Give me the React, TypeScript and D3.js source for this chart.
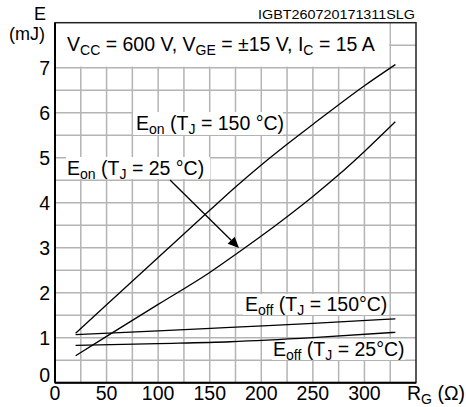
import React from 'react';
import * as d3 from 'd3';

// gate resistance (ohm) / switching energy (mJ)
const eon150: [number, number][] = [
  [20, 1.1], [50, 1.73], [100, 2.78], [150, 3.83], [175, 4.35], [200, 4.84], [225, 5.3],
  [250, 5.74], [300, 6.6], [330, 7.07],
];
const eon25: [number, number][] = [
  [20, 0.6], [50, 1.03], [100, 1.74], [150, 2.45], [175, 2.85], [200, 3.26], [225, 3.69],
  [250, 4.14], [275, 4.62], [300, 5.14], [330, 5.8],
];
const eoff150: [number, number][] = [
  [20, 1.07], [100, 1.15], [170, 1.23], [250, 1.32], [330, 1.42],
];
const eoff25: [number, number][] = [
  [20, 0.83], [100, 0.87], [170, 0.91], [250, 1.0], [330, 1.12],
];

const xTicks = [0, 50, 100, 150, 200, 250, 300];
const yTicks = [0, 1, 2, 3, 4, 5, 6, 7];
const xGrid = d3.range(25, 350, 25);
const yGrid = d3.range(0.5, 8, 0.5);

const W = 466;
const H = 407;
const FONT = 'Liberation Sans, Arial, sans-serif';
const FS = 19.5;

const x = d3.scaleLinear().domain([0, 350]).range([55, 416]);
const y = d3.scaleLinear().domain([0, 8]).range([382.7, 22.7]);

const line = d3.line<[number, number]>()
  .x(d => x(d[0]))
  .y(d => y(d[1]))
  .curve(d3.curveMonotoneX);

// label with subscripts: parts alternate normal / subscript
function SubText({ xPos, yPos, parts, size = FS }: { xPos: number; yPos: number; parts: string[]; size?: number }) {
  return (
    <text x={xPos} y={yPos} fontSize={size} fontFamily={FONT} fill="#000">
      {parts.map((p, i) => (
        <tspan
          key={i}
          fontSize={i % 2 === 1 ? size * 0.72 : size}
          dy={i === 0 ? 0 : i % 2 === 1 ? 4 : -4}
        >{p}</tspan>
      ))}
    </text>
  );
}

export default function App() {
  const curves = [eon150, eon25, eoff150, eoff25];

  // arrow from the Eon(25) label to its curve
  const a0 = [170, 180];
  const a1 = [239, 248];
  const ang = Math.atan2(a1[1] - a0[1], a1[0] - a0[0]);
  const hl = 11, hw = 5;
  const bx = a1[0] - hl * Math.cos(ang), by = a1[1] - hl * Math.sin(ang);
  const head = [
    [a1[0], a1[1]],
    [bx + hw * Math.sin(ang), by - hw * Math.cos(ang)],
    [bx - hw * Math.sin(ang), by + hw * Math.cos(ang)],
  ].map(p => p.join(',')).join(' ');

  return (
    <svg width={W} height={H} style={{ position: 'absolute', left: 0, top: 0, background: '#fff' }}>
      {/* grid */}
      {xGrid.map(v => (
        <line key={'gx' + v} x1={x(v)} x2={x(v)} y1={y(0)} y2={y(8)} stroke="#b4b4b4" strokeWidth={1.5} />
      ))}
      {yGrid.map(v => (
        <line key={'gy' + v} x1={x(0)} x2={x(350)} y1={y(v)} y2={y(v)} stroke="#b4b4b4" strokeWidth={1.5} />
      ))}

      {/* white boxes behind the annotations */}
      <rect x={x(0)} y={y(8)} width={x(325) - x(0) - 1} height={y(7) - y(8) - 1} fill="#fff" />
      <rect x={133} y={112} width={150} height={23} fill="#fff" />
      <rect x={66} y={157} width={144} height={22} fill="#fff" />
      <rect x={243} y={294} width={146} height={21} fill="#fff" />
      <rect x={272} y={339} width={133} height={21} fill="#fff" />

      {/* frame */}
      <rect x={x(0)} y={y(8)} width={x(350) - x(0)} height={y(0) - y(8)} fill="none" stroke="#222" strokeWidth={1.5} />
      <line x1={x(0)} x2={x(0)} y1={y(0)} y2={y(8)} stroke="#000" strokeWidth={2} />
      <line x1={x(0)} x2={x(350)} y1={y(0)} y2={y(0)} stroke="#000" strokeWidth={2} />

      {/* curves */}
      {curves.map((c, i) => (
        <path key={i} d={line(c) || ''} fill="none" stroke="#000" strokeWidth={1.3} />
      ))}

      {/* arrow */}
      <line x1={a0[0]} y1={a0[1]} x2={bx} y2={by} stroke="#000" strokeWidth={1.3} />
      <polygon points={head} fill="#000" />

      {/* tick labels */}
      {xTicks.map(v => (
        <text key={'xt' + v} x={x(v)} y={399.5} textAnchor="middle" fontSize={FS} fontFamily={FONT}>{v}</text>
      ))}
      {yTicks.map(v => (
        <text key={'yt' + v} x={50} y={v === 0 ? 382 : y(v) + 7} textAnchor="end" fontSize={FS} fontFamily={FONT}>{v}</text>
      ))}

      {/* axis titles */}
      <text x={40} y={20} textAnchor="middle" fontSize={18} fontFamily={FONT}>E</text>
      <text x={45} y={40} textAnchor="end" fontSize={18} fontFamily={FONT}>(mJ)</text>
      <SubText xPos={407} yPos={399.5} parts={['R', 'G', ' (Ω)']} />

      {/* annotations */}
      <SubText xPos={67} yPos={51} parts={['V', 'CC', ' = 600 V, V', 'GE', ' = ±15 V, I', 'C', ' = 15 A']} />
      <SubText xPos={136} yPos={130} parts={['E', 'on', ' (T', 'J', ' = 150 °C)']} />
      <SubText xPos={67} yPos={174.5} parts={['E', 'on', ' (T', 'J', ' = 25 °C)']} />
      <SubText xPos={245} yPos={311} parts={['E', 'off', ' (T', 'J', ' = 150°C)']} />
      <SubText xPos={273} yPos={356} parts={['E', 'off', ' (T', 'J', ' = 25°C)']} />

      <text x={258} y={19} fontSize={13} fontFamily={FONT} textLength={157} lengthAdjust="spacingAndGlyphs">IGBT260720171311SLG</text>
    </svg>
  );
}
